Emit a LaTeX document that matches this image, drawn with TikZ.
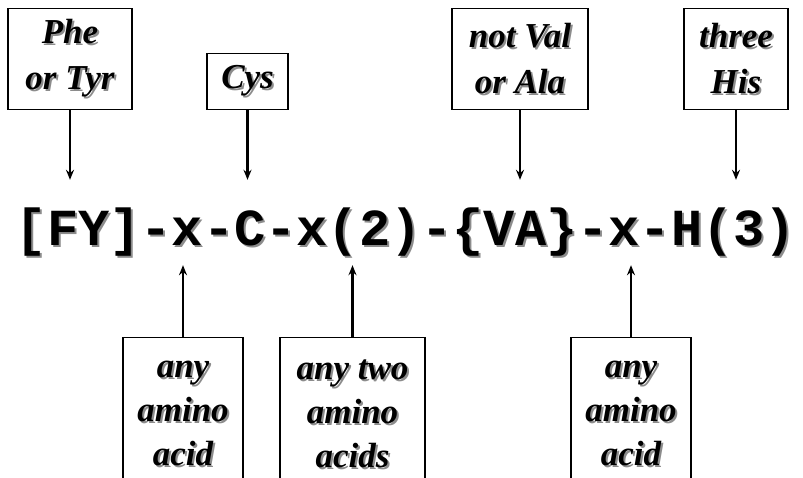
\documentclass[tikz,border=0pt]{standalone}
\usepackage{fontspec}
\setmainfont{Liberation Serif}
\newfontfamily\labfont{Liberation Serif}[UprightFont={* Bold Italic}]
\newfontfamily\motiffont{Liberation Mono}
\definecolor{shadowgray}{HTML}{8C8C8C}
\usepackage{tikz}
\usetikzlibrary{arrows.meta,positioning}
\newcommand{\shd}[1]{\makebox[0pt][l]{\kern2pt\raisebox{-2pt}{\textcolor{shadowgray}{#1}}}#1}

\begin{document}
\begin{tikzpicture}[x=1pt,y=-1pt,
  lab/.style={draw,line width=1.3pt,align=center,inner sep=0pt,
    font=\labfont\fontsize{35}{46}\selectfont},
  toplab/.style={lab,minimum height=101pt,anchor=north},
  botlab/.style={lab,minimum height=154pt,anchor=north,font=\labfont\fontsize{35}{44}\selectfont},
  ptr/.style={-{Stealth[length=10pt,width=8pt]},line width=2.9pt}]
\useasboundingbox (0,0) rectangle (803,477);
\clip (0,0) rectangle (803,477);
\node[inner xsep=0pt,inner ysep=20pt,text height=45pt,text depth=0pt,anchor=base,
  font=\motiffont\bfseries\fontsize{52}{60}\selectfont] (motif) at (406,245)
  {\shd{[FY]-x-C-x(2)-\{VA\}-x-H(3)}};
\node[toplab,minimum width=124pt] (phe) at (70,8) {\shd{Phe}\\\shd{or Tyr}};
\node[toplab,minimum width=81pt,minimum height=56pt] (cys) at (247.5,53) {\shd{Cys}};
\node[toplab,minimum width=136pt] (notval) at (520,8) {\shd{not Val}\\\shd{or Ala}};
\node[toplab,minimum width=104pt] (his) at (736,8) {\shd{three}\\\shd{His}};
\node[botlab,minimum width=120pt] (any1) at (183,337) {\shd{any}\\\shd{amino}\\\shd{acid}};
\node[botlab,minimum width=145pt] (any2) at (352.5,337) {\shd{any two}\\\shd{amino}\\\shd{acids}};
\node[botlab,minimum width=120pt] (any3) at (631,337) {\shd{any}\\\shd{amino}\\\shd{acid}};
\foreach \b in {phe,cys,notval,his}
  \draw[ptr] (\b.south) -- (\b.south |- motif.north);
\foreach \b in {any1,any2,any3}
  \draw[ptr] (\b.north) -- (\b.north |- motif.south);
\end{tikzpicture}
\end{document}
